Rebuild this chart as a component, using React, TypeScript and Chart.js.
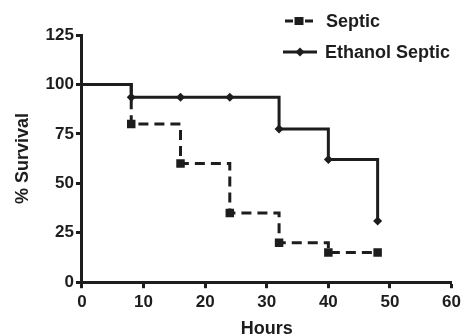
import React, { useEffect, useRef } from "react";
import { Chart, registerables } from "chart.js";

Chart.register(...registerables);

const hours = [0, 8, 16, 24, 32, 40, 48];
const septic = [100, 80, 60, 35, 20, 15, 15];
const ethanolSeptic = [100, 93.5, 93.5, 93.5, 77.5, 62, 31];
const seriesLabels = ["Septic", "Ethanol Septic"];
const xTicks = [0, 10, 20, 30, 40, 50, 60];
const yTicks = [0, 25, 50, 75, 100, 125];

const INK = "#1e1c1d";
const FONT = "'Liberation Sans', Arial, sans-serif";

const legendPlugin = {
  id: "customLegend",
  afterDraw(chart: any) {
    const ctx = chart.ctx;
    ctx.save();
    const ds = chart.data.datasets;
    const rows = [
      { y: 21, x0: 285, x1: 313, mx: 299, tx: 326 },
      { y: 52, x0: 283, x1: 317, mx: 300, tx: 325 },
    ];
    ds.forEach((d: any, i: number) => {
      const r = rows[i];
      ctx.strokeStyle = INK;
      ctx.fillStyle = INK;
      ctx.lineWidth = 3;
      ctx.setLineDash([]);
      ctx.beginPath();
      if (i === 0) {
        ctx.moveTo(r.x0, r.y);
        ctx.lineTo(r.x0 + 8, r.y);
        ctx.moveTo(r.x1 - 8, r.y);
        ctx.lineTo(r.x1, r.y);
      } else {
        ctx.moveTo(r.x0, r.y);
        ctx.lineTo(r.x1, r.y);
      }
      ctx.stroke();
      ctx.beginPath();
      if (i === 0) {
        ctx.rect(r.mx - 4.5, r.y - 4, 9, 8);
      } else {
        ctx.moveTo(r.mx, r.y - 4.5);
        ctx.lineTo(r.mx + 4.5, r.y);
        ctx.lineTo(r.mx, r.y + 4.5);
        ctx.lineTo(r.mx - 4.5, r.y);
        ctx.closePath();
      }
      ctx.fill();
      ctx.font = `bold 18px ${FONT}`;
      ctx.textBaseline = "middle";
      ctx.textAlign = "left";
      ctx.fillText(d.label, r.tx, r.y + 1);
    });
    ctx.restore();
  },
};

export default function App() {
  const ref = useRef<HTMLCanvasElement>(null);
  useEffect(() => {
    document.body.style.margin = "0";
    const canvas = ref.current!;
    const radii = (r: number) => hours.map((h) => (h === 0 ? 0 : r));
    const chart = new Chart(canvas, {
      type: "line",
      data: {
        datasets: [
          {
            label: seriesLabels[0],
            data: hours.map((h, i) => ({ x: h, y: septic[i] })),
            borderColor: INK,
            backgroundColor: INK,
            borderWidth: 3,
            borderDash: [10, 6],
            stepped: "before",
            pointStyle: "rect",
            pointRadius: radii(6),
            pointBorderWidth: 0,
            fill: false,
          },
          {
            label: seriesLabels[1],
            data: hours.map((h, i) => ({ x: h, y: ethanolSeptic[i] })),
            borderColor: INK,
            backgroundColor: INK,
            borderWidth: 3,
            stepped: "before",
            pointStyle: "rectRot",
            pointRadius: radii(4.5),
            pointBorderWidth: 0,
            fill: false,
          },
        ],
      },
      options: {
        animation: false,
        responsive: false,
        maintainAspectRatio: false,
        layout: { padding: { top: 35, right: 12, left: 12, bottom: 0 } },
        plugins: { legend: { display: false }, tooltip: { enabled: false } },
        scales: {
          x: {
            type: "linear",
            min: 0,
            max: 60,
            afterBuildTicks: (s: any) => {
              s.ticks = xTicks.map((v) => ({ value: v }));
            },
            ticks: { color: INK, font: { family: FONT, size: 17, weight: "bold" }, padding: 4, maxRotation: 0 },
            grid: { drawOnChartArea: false, drawTicks: true, tickLength: 6, tickWidth: 3, color: INK },
            border: { width: 3, color: INK },
            title: { display: true, text: "Hours", color: INK, font: { family: FONT, size: 18, weight: "bold", lineHeight: 0.8 }, padding: { top: 5, bottom: 0 } },
          },
          y: {
            type: "linear",
            min: 0,
            max: 125,
            afterBuildTicks: (s: any) => {
              s.ticks = yTicks.map((v) => ({ value: v }));
            },
            ticks: { color: INK, font: { family: FONT, size: 17, weight: "bold" }, padding: 2 },
            grid: { drawOnChartArea: false, drawTicks: true, tickLength: 6, tickWidth: 3, color: INK },
            border: { width: 3, color: INK },
            title: { display: true, text: "% Survival", color: INK, font: { family: FONT, size: 18, weight: "bold" }, padding: { top: 0, bottom: 10 } },
          },
        },
      },
      plugins: [legendPlugin],
    } as any);
    return () => chart.destroy();
  }, []);
  return (
    <div style={{ width: 465, height: 336, background: "#fff" }}>
      <canvas ref={ref} width={465} height={336} style={{ display: "block" }} />
    </div>
  );
}
